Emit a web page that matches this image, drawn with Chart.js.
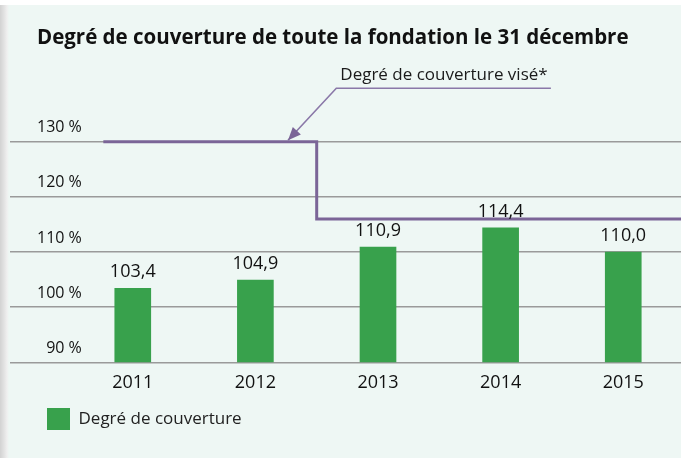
<!DOCTYPE html>
<html><head><meta charset="utf-8">
<script src="https://cdn.jsdelivr.net/npm/chart.js@4"></script>
<style>
html,body{margin:0;padding:0;background:#fff;width:681px;height:458px;overflow:hidden}
#panel{position:absolute;left:0;top:5px;width:681px;height:453px;
 background:linear-gradient(to right,#d2d2d2 0px,#e2e2e2 4px,#efefef 7px,#eef7f4 9px,#eef7f4 100%);}
#wrap{position:absolute;left:0;top:0;width:681px;height:458px}
</style></head><body>
<div id="panel"></div>
<div id="wrap"><canvas id="c" width="681" height="458"></canvas></div>
<script>
// ---- data ----
const years = ['2011', '2012', '2013', '2014', '2015'];
const coverage = [103.4, 104.9, 110.9, 114.4, 110.0];
const targetX = [-0.24, 1.5, 1.5, 4.6];
const targetY = [130, 130, 116, 116];
const yTicks = [90, 100, 110, 120, 130];
const titleText = 'Degré de couverture de toute la fondation le 31 décembre';
const seriesName = 'Degré de couverture';
const targetName = 'Degré de couverture visé*';

const FONT = "'Open Sans', 'Noto Sans', sans-serif";
const fmt = v => v.toFixed(1).replace('.', ',');

const valueLabels = {
  id: 'valueLabels',
  afterDatasetsDraw(chart) {
    const meta = chart.getDatasetMeta(1);
    const c = chart.ctx;
    c.save();
    c.font = '18px ' + FONT;
    c.fillStyle = '#111';
    c.textAlign = 'center';
    c.textBaseline = 'alphabetic';
    meta.data.forEach((bar, i) => c.fillText(fmt(coverage[i]), bar.x, bar.y - 11));
    c.restore();
  }
};

const targetNote = {
  id: 'targetNote',
  afterDraw(chart) {
    const xs = chart.scales.x, ys = chart.scales.y, c = chart.ctx;
    const tip = {x: xs.getPixelForValue(1.266), y: ys.getPixelForValue(130) - 1.5};
    const elbow = {x: xs.getPixelForValue(1.66), y: ys.getPixelForValue(139.7)};
    const endX = xs.getPixelForValue(3.41);
    c.save();
    c.strokeStyle = '#8a78a8';
    c.fillStyle = '#7b6597';
    c.lineWidth = 1.6;
    c.beginPath();
    c.moveTo(endX, elbow.y); c.lineTo(elbow.x, elbow.y); c.lineTo(tip.x, tip.y);
    c.stroke();
    const ang = Math.atan2(tip.y - elbow.y, tip.x - elbow.x);
    const L = 13, W = 5.5;
    c.beginPath();
    c.moveTo(tip.x, tip.y);
    c.lineTo(tip.x - L * Math.cos(ang) + W * Math.sin(ang), tip.y - L * Math.sin(ang) - W * Math.cos(ang));
    c.lineTo(tip.x - L * Math.cos(ang) - W * Math.sin(ang), tip.y - L * Math.sin(ang) + W * Math.cos(ang));
    c.closePath(); c.fill();
    c.font = '17px ' + FONT;
    c.fillStyle = '#1a1a1a';
    c.textAlign = 'left';
    c.textBaseline = 'alphabetic';
    c.fillText(targetName, elbow.x + 4, elbow.y - 8);
    c.restore();
  }
};

new Chart(document.getElementById('c'), {
  data: {
    datasets: [
      {type: 'line', label: targetName,
       data: targetX.map((x, i) => ({x, y: targetY[i]})),
       borderColor: '#7b6597', borderWidth: 3, pointRadius: 0, tension: 0, fill: false,
       clip: false, order: 0},
      {type: 'bar', label: seriesName,
       data: years.map((yr, i) => ({x: i, y: coverage[i]})),
       backgroundColor: '#38a14c', barThickness: 36, order: 1}
    ]
  },
  options: {
    responsive: false, animation: false,
    layout: {padding: {left: 10, right: 0, top: 0, bottom: 18}},
    scales: {
      x: {type: 'linear', min: -0.781, max: 4.471, offset: false, bounds: 'data',
          grid: {display: false, drawTicks: false, offset: false}, border: {display: false},
          afterBuildTicks: s => { s.ticks = years.map((yr, i) => ({value: i})); },
          afterFit: s => { s.height = 35.7; },
          ticks: {autoSkip: false, maxRotation: 0, padding: 6.7, color: '#111',
                  font: {family: FONT, size: 18, lineHeight: 1.556},
                  callback: (v, i) => years[i]}},
      y: {min: yTicks[0], max: yTicks[yTicks.length - 1],
          afterFit: s => { s.width = 27; },
          afterBuildTicks: s => { s.ticks = yTicks.map(v => ({value: v})); },
          grid: {color: '#9a9a9a', lineWidth: 1.5, drawTicks: true, tickLength: 27},
          border: {display: false},
          ticks: {mirror: true, crossAlign: 'far', padding: 0, labelOffset: -14, color: '#111',
                  font: {family: FONT, size: 16}, callback: v => v + ' %'}}
    },
    plugins: {
      title: {display: true, fullSize: false, align: 'start', text: titleText, color: '#111',
              font: {family: FONT, size: 20.5, weight: 'bold'}, padding: {top: 25.7, bottom: 91.4}},
      legend: {position: 'bottom', align: 'start', fullSize: false,
               labels: {boxWidth: 23, boxHeight: 22, padding: 10, color: '#222',
                        font: {family: FONT, size: 17},
                        filter: item => item.datasetIndex === 1}},
      tooltip: {enabled: false}
    }
  },
  plugins: [valueLabels, targetNote]
});
</script>
</body></html>
